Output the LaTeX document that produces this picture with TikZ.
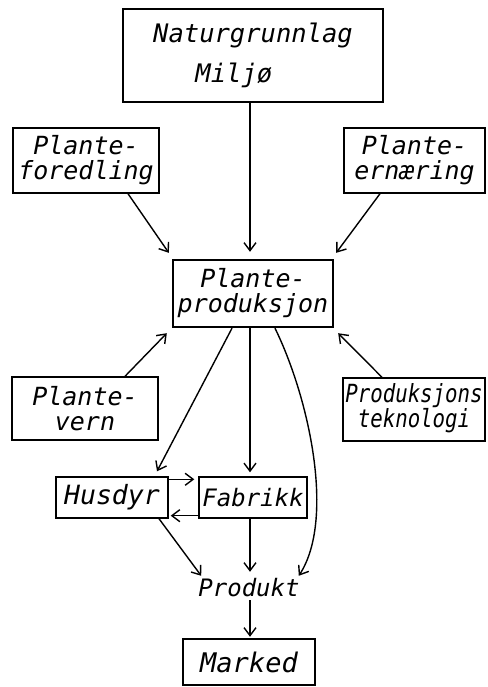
\documentclass[tikz,border=0pt]{standalone}
\usepackage{fontspec}
\newfontfamily\labfont{DejaVu Sans Mono}
\usetikzlibrary{arrows.meta}
\newcommand{\fs}[2]{\labfont\itshape\fontsize{#1}{#2}\selectfont}
\begin{document}
\begin{tikzpicture}[x=1pt,y=-1pt,
  lbl/.style={font=\fs{25}{25}},
  box/.style={lbl, draw, line width=1.4pt, inner sep=0pt, align=center},
  thickbox/.style={box, line width=2.4pt},
  conn/.style={line width=1.4pt, -{Straight Barb[length=8pt,width=12pt,line width=1.4pt]}}
]
\useasboundingbox (0,0) rectangle (487,687);
% boxes
\node[thickbox, minimum width=260pt, minimum height=93pt, font=\fs{25.5}{40}] (nat) at (253,55.5) {Naturgrunnlag\\Miljø\hspace*{1.5em}};
\node[box, minimum width=146pt, minimum height=65pt] (pf) at (86,160.5) {Plante-\\foredling};
\node[box, minimum width=141pt, minimum height=65pt] (pe) at (414.5,160.5) {Plante-\\ernæring};
\node[thickbox, minimum width=160pt, minimum height=67pt] (pp) at (253,293.5) {Plante-\\produksjon};
\node[box, minimum width=146pt, minimum height=63pt] (pv) at (85,408.5) {Plante-\\vern};
\node[box, minimum width=142pt, minimum height=63pt] (pt) at (414,409.5) {\scalebox{0.83}[1]{\begin{tabular}{@{}c@{}}Produksjons\\[-2pt]teknologi\end{tabular}}};
\node[box, minimum width=112pt, minimum height=41pt, font=\fs{26.5}{26}] (hus) at (112,497.5) {Husdyr};
\node[box, minimum width=108pt, minimum height=41pt, font=\fs{24}{25}] (fab) at (253,497.5) {Fabrikk};
\node[lbl, inner sep=0pt, minimum width=100pt, minimum height=24pt, font=\fs{24}{25}] (prod) at (249,588) {Produkt};
\node[thickbox, minimum width=132pt, minimum height=46pt, font=\fs{27}{27}] (mar) at (249,662) {Marked};
% connectors
\draw[conn, shorten >=7pt] ([xshift=-3pt]nat.south) -- ([xshift=-3pt]pp.north);
\draw[conn] ([xshift=42pt]pf.south) -- ([shift={(-3pt,6pt)}]pp.north west);
\draw[conn] ([xshift=-34.5pt]pe.south) -- ([shift={(2pt,6pt)}]pp.north east);
\draw[conn] ([xshift=40pt]pv.north) -- ([shift={(-5pt,-5pt)}]pp.south west);
\draw[conn] ([xshift=-32pt]pt.north) -- ([shift={(4pt,-5pt)}]pp.south east);
\draw[conn] ([xshift=-21pt]pp.south) -- ([shift={(45pt,5pt)}]hus.north);
\draw[conn, shorten >=4pt] ([xshift=-3pt]pp.south) -- ([xshift=-3pt]fab.north);
\draw[conn] ([xshift=22pt]pp.south) .. controls (310,400) and (335,520) .. ([xshift=-1pt]prod.north east);
\draw[conn, shorten >=4pt] ([yshift=-3pt]hus.north east) -- ([yshift=-3pt]fab.north west);
\draw[conn, shorten >=2pt] ([yshift=3pt]fab.south west) -- ([yshift=3pt]hus.south east);
\draw[conn] ([xshift=47pt]hus.south) -- ([xshift=3pt]prod.north west);
\draw[conn, shorten >=4pt] ([xshift=-3pt]fab.south) -- ([xshift=1pt]prod.north);
\draw[conn, shorten >=1pt] ([xshift=1pt]prod.south) -- ([xshift=1pt]mar.north);
\end{tikzpicture}
\end{document}
